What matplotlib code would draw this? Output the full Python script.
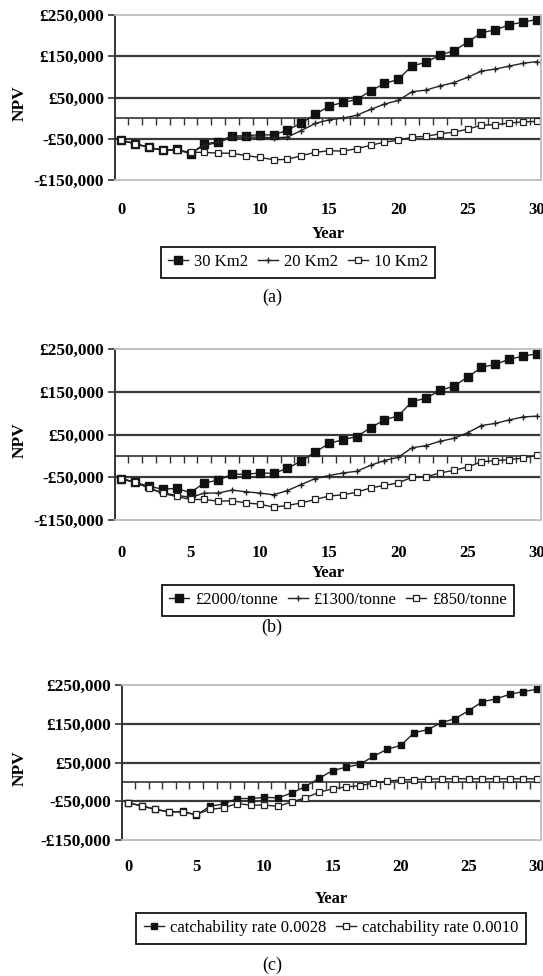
import numpy as np
import matplotlib
matplotlib.use("Agg")
import matplotlib.pyplot as plt
from matplotlib.ticker import FuncFormatter

plt.rcParams['font.family'] = ['Liberation Serif', 'DejaVu Serif']

# NPV in thousands of pounds, years 0..30
years = list(range(31))

# base scenario (30 Km2, £2000/tonne, catchability 0.0028)
npv_base = [-54, -62, -71, -78, -76, -86, -63, -57, -43, -43, -40, -41, -29, -12, 9, 29,
            38, 45, 66, 84, 94, 127, 135, 153, 163, 184, 207, 214, 226, 233, 239]

# (a) fishing area
npv_20km2 = [-54, -62, -71, -78, -77, -85, -66, -59, -46, -46, -46, -48, -46, -30, -13, -4,
             0, 7, 21, 34, 43, 64, 68, 78, 86, 99, 114, 119, 126, 133, 137]
npv_10km2 = [-54, -62, -71, -78, -77, -83, -83, -85, -85, -91, -95, -101, -100, -91, -83, -79,
             -80, -74, -66, -58, -54, -46, -44, -38, -34, -27, -17, -16, -12, -9, -8]

# (b) price
npv_1300 = [-53, -62, -75, -87, -92, -97, -87, -87, -80, -84, -87, -91, -81, -67, -53, -46,
            -40, -36, -22, -11, -3, 19, 24, 34, 41, 54, 71, 76, 84, 91, 93]
npv_850 = [-53, -62, -75, -88, -95, -102, -102, -106, -105, -110, -113, -120, -116, -110, -102, -94,
           -91, -85, -75, -69, -63, -50, -49, -40, -34, -26, -14, -11, -9, -5, 1]

# (c) catchability
npv_q0010 = [-54, -62, -71, -77, -78, -84, -71, -67, -56, -60, -60, -63, -52, -41, -27, -18,
             -13, -10, -3, 2, 5, 6, 7, 8, 8, 8, 8, 8, 8, 8, 8]

labels_a = ['30 Km2', '20 Km2', '10 Km2']
labels_b = ['£2000/tonne', '£1300/tonne', '£850/tonne']
labels_c = ['catchability rate 0.0028', 'catchability rate 0.0010']

W, H = 543, 976
fig = plt.figure(figsize=(W / 100, H / 100), dpi=100)


def box(l, t, r, b):
    return [l / W, 1 - b / H, (r - l) / W, (b - t) / H]


def money(v, pos):
    v = int(round(v))
    if v < 0:
        return '-£{:,}'.format(-v)
    return '£{:,}'.format(v)


def panel(rect, series, styles, labels, xpad, year_y, leg_xy, letter, letter_y):
    ax = fig.add_axes(box(*rect))
    for vals, st, lab in zip(series, styles, labels):
        ax.plot(years, np.array(vals) * 1000, color='#222222', lw=1.0, label=lab, **st)

    ax.set_xlim(-0.45, 30.3)
    ax.set_ylim(-150000, 250000)
    ax.set_yticks([-150000, -50000, 50000, 150000, 250000])
    ax.yaxis.set_major_formatter(FuncFormatter(money))
    ax.set_xticks(range(0, 31, 5))

    for g in [150000, 50000, -50000]:
        ax.axhline(g, color='#3a3a3a', lw=1.6, zorder=0)
    for s in ['top', 'bottom', 'right']:
        ax.spines[s].set_color('#bdbdbd')
        ax.spines[s].set_linewidth(1.3)
    ax.spines['left'].set_color('#333333')
    ax.spines['left'].set_linewidth(1.4)

    ax.tick_params(axis='x', length=0, pad=xpad, labelsize=12)
    ax.tick_params(axis='y', direction='out', length=5, width=1.2, color='#333333',
                   pad=3, labelsize=12.5)
    for t in ax.get_xticklabels() + ax.get_yticklabels():
        t.set_fontweight('bold')

    # category axis sitting on the zero line
    sec = ax.secondary_xaxis(150 / 400)
    sec.set_ticks(np.arange(0.5, 30.5, 1))
    sec.tick_params(direction='out', length=5, width=1.0, color='#333333',
                    labelbottom=False, labeltop=False)
    sec.spines['bottom'].set_color('#333333')
    sec.spines['bottom'].set_linewidth(1.2)

    l, t, r, b = rect
    fig.text(20 / W, 1 - ((t + b) / 2 + 6) / H, 'NPV', rotation=90, ha='center', va='center',
             fontsize=12.5, fontweight='bold')
    fig.text((l + r) / 2 / W, 1 - year_y / H, 'Year', ha='center', va='center',
             fontsize=12, fontweight='bold')

    leg = ax.legend(loc='center', bbox_to_anchor=(leg_xy[0] / W, 1 - leg_xy[1] / H),
                    bbox_transform=fig.transFigure, ncol=len(labels), frameon=True,
                    fancybox=False, edgecolor='black', framealpha=1, fontsize=12,
                    handlelength=1.2, handletextpad=0.35, columnspacing=0.6, borderpad=0.45)
    leg.get_frame().set_linewidth(1.2)

    fig.text(272 / W, 1 - letter_y / H, letter, ha='center', va='center', fontsize=13)
    return ax


big_fill = dict(marker='s', ms=5.5, mfc='#111111', mec='#111111')
plus = dict(marker='+', ms=5, mew=1.0)
open_sq = dict(marker='s', ms=4.5, mfc='white', mec='#222222', mew=0.9)
small_fill = dict(marker='s', ms=3.8, mfc='#111111', mec='#111111')
open_c = dict(marker='s', ms=5, mfc='white', mec='#222222', mew=0.9)

panel((115, 15, 541, 180), [npv_base, npv_20km2, npv_10km2], [big_fill, plus, open_sq],
      labels_a, 16, 234, (298, 262), '(a)', 297)
panel((115, 349, 541, 520), [npv_base, npv_1300, npv_850], [big_fill, plus, open_sq],
      labels_b, 18, 573, (338, 600), '(b)', 627)
panel((122, 685, 541, 840), [npv_base, npv_q0010], [small_fill, open_c],
      labels_c, 14, 899, (331, 928), '(c)', 965)

fig.savefig('out.png', dpi=100)
